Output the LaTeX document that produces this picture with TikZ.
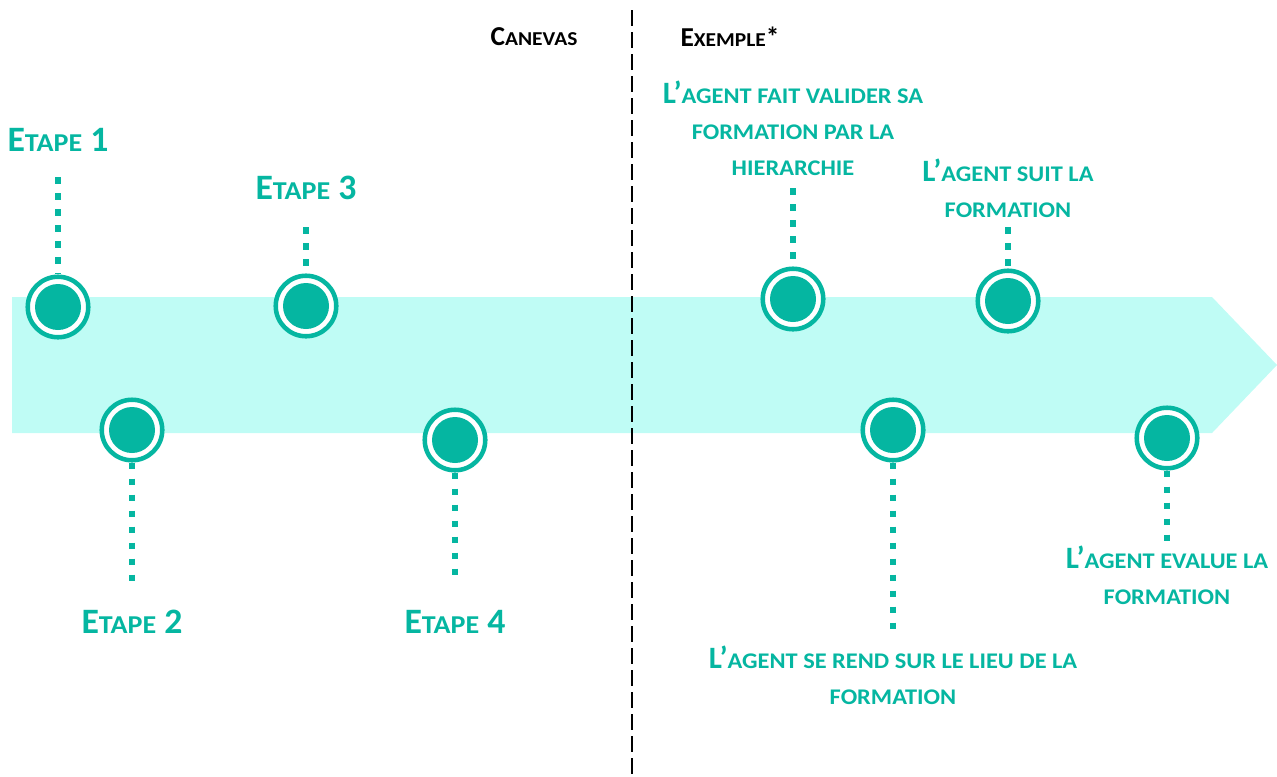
\documentclass[tikz,border=0pt]{standalone}
\usepackage{fontspec}
\usepackage{graphicx}
\setmainfont{Carlito}[BoldFont={* Bold}]
\definecolor{tealmain}{HTML}{05B6A1}
\definecolor{bandfill}{HTML}{BFFCF5}
% small capitals built from scaled capitals
\newcommand\smc[1]{\scalebox{0.785}[0.72]{#1}}
\begin{document}
\begin{tikzpicture}[x=0.75pt,y=-0.75pt,
  ring/.style={circle,draw=tealmain,fill=white,line width=3.4pt,minimum size=45.4pt,inner sep=0pt},
  core/.style={circle,fill=tealmain,minimum size=34.5pt,inner sep=0pt},
  stem/.style={tealmain,line width=5pt,dash pattern=on 5pt off 7pt},
  steplabel/.style={text=tealmain,font=\fontsize{26.8}{30}\selectfont\bfseries},
  notelabel/.style={text=tealmain,font=\fontsize{23.3}{27}\selectfont\bfseries,align=center},
  head/.style={text=black,font=\fontsize{20.5}{24}\selectfont\bfseries}]
\useasboundingbox (0,0) rectangle (1277,776);

% timeline band
\fill[bandfill] (12,297) -- (1212,297) -- (1277,365) -- (1212,433) -- (12,433) -- cycle;

% headings
\node[head] (hcanevas) at (534,37) {C\smc{ANEVAS}};
\node[head] (hexemple) at (730,37) {E\smc{XEMPLE}*};

% milestones
\foreach \n/\x/\y in {c1/58/307, c2/132/430, c3/306/306, c4/455/440,
                      c5/793/299, c6/1008/301, c7/893/430, c8/1167/438} {
  \node[ring] (\n) at (\x,\y) {};
  \node[core] (\n in) at (\x,\y) {};
}

% stem end points
\coordinate (s1) at (58,177);
\coordinate (s2) at (132,585);
\coordinate (s3) at (306,227);
\coordinate (s4) at (455,584);
\coordinate (s5) at (793,188);
\coordinate (s6) at (1008,227);
\coordinate (s7) at (893,637);
\coordinate (s8) at (1167,541);

\draw[stem] (s1) -- (c1);
\draw[stem] (c2) -- (s2);
\draw[stem] (s3) -- (c3);
\draw[stem] (c4) -- (s4);
\draw[stem] (s5) -- (c5);
\draw[stem] (s6) -- (c6);
\draw[stem] (c7) -- (s7);
\draw[stem] (c8) -- (s8);

% step labels
\node[steplabel] (t1) at (58,140) {E\smc{TAPE} 1};
\node[steplabel] (t2) at (132,622) {E\smc{TAPE} 2};
\node[steplabel] (t3) at (306,188) {E\smc{TAPE} 3};
\node[steplabel] (t4) at (455,622) {E\smc{TAPE} 4};

% example labels
\node[notelabel] (t5) at (793,128) {L’\smc{AGENT FAIT VALIDER SA}\\\smc{FORMATION PAR LA}\\\smc{HIERARCHIE}};
\node[notelabel] (t6) at (1008,188) {L’\smc{AGENT SUIT LA}\\\smc{FORMATION}};
\node[notelabel] (t7) at (893,675) {L’\smc{AGENT SE REND SUR LE LIEU DE LA}\\\smc{FORMATION}};
\node[notelabel] (t8) at (1167,575) {L’\smc{AGENT EVALUE LA}\\\smc{FORMATION}};

% separator
\coordinate (sepTop) at (632,10);
\coordinate (sepBot) at (632,776);
\draw[black,line width=1.5pt,dash pattern=on 12pt off 4.5pt] (sepTop) -- (sepBot);
\end{tikzpicture}
\end{document}
